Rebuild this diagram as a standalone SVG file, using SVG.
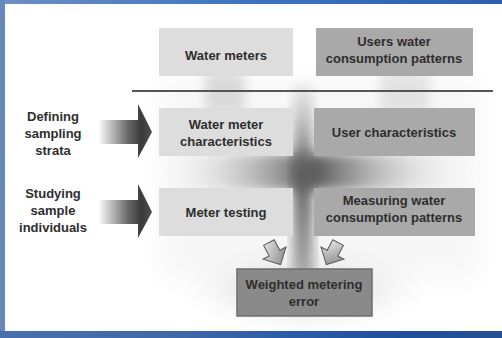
<svg xmlns="http://www.w3.org/2000/svg" width="502" height="338" viewBox="0 0 502 338">
<defs>
<style>
.t{font-family:"Liberation Sans",Arial,sans-serif;font-weight:bold;font-size:13px;fill:#2e2e2e;text-anchor:middle}
.lt{fill:#dddddd}
.dk{fill:#a9a9a9}
.sa{stroke:#5a5a5a;stroke-width:1;fill:url(#sg)}
</style>
<linearGradient id="topb" x1="0" y1="0" x2="1" y2="0"><stop offset="0" stop-color="#6d8fc4"/><stop offset="0.5" stop-color="#3b73c2"/><stop offset="1" stop-color="#2e5fae"/></linearGradient>
<linearGradient id="botb" x1="0" y1="0" x2="1" y2="0"><stop offset="0" stop-color="#4a6fae"/><stop offset="0.35" stop-color="#3f68a8"/><stop offset="0.6" stop-color="#2a5aa8"/><stop offset="0.8" stop-color="#1e4f9c"/><stop offset="1" stop-color="#244f94"/></linearGradient>
<linearGradient id="hb" x1="0" y1="0" x2="1" y2="0"><stop offset="0" stop-color="#ffffff" stop-opacity="0"/><stop offset="0.5" stop-color="#585858"/><stop offset="1" stop-color="#ffffff" stop-opacity="0"/></linearGradient>
<linearGradient id="vb" x1="0" y1="0" x2="0" y2="1"><stop offset="0" stop-color="#cfcfcf" stop-opacity="0.4"/><stop offset="0.45" stop-color="#5a5a5a"/><stop offset="1" stop-color="#8a8a8a" stop-opacity="0.7"/></linearGradient>
<radialGradient id="glow" cx="0.5" cy="0.5" r="0.5"><stop offset="0" stop-color="#b8b8b8"/><stop offset="1" stop-color="#ffffff" stop-opacity="0"/></radialGradient>
<linearGradient id="ag" x1="0" y1="0" x2="1" y2="0"><stop offset="0" stop-color="#ffffff"/><stop offset="0.55" stop-color="#6a6a6a"/><stop offset="0.8" stop-color="#3a3a3a"/><stop offset="1" stop-color="#505050"/></linearGradient>
<linearGradient id="sg" x1="0" y1="0" x2="1" y2="1"><stop offset="0" stop-color="#f2f2f2"/><stop offset="1" stop-color="#7a7a7a"/></linearGradient>
<filter id="bl" x="-30%" y="-30%" width="160%" height="160%"><feGaussianBlur stdDeviation="6"/></filter>
<filter id="bl2" x="-50%" y="-50%" width="200%" height="200%"><feGaussianBlur stdDeviation="10"/></filter>
</defs>
<rect x="0" y="0" width="502" height="338" fill="#ffffff"/>
<g id="shading">
<ellipse cx="304" cy="285" rx="140" ry="55" fill="url(#glow)"/>
<rect x="160" y="80" width="320" height="200" fill="#f3f3f3" filter="url(#bl2)" opacity="0.6"/>
<rect x="205" y="72" width="40" height="40" fill="#c4c4c4" filter="url(#bl)" opacity="0.6"/>
<rect x="380" y="72" width="50" height="40" fill="#cccccc" filter="url(#bl)" opacity="0.5"/>
<rect x="150" y="154" width="330" height="36" fill="url(#hb)" filter="url(#bl)"/>
<rect x="293" y="85" width="20" height="190" fill="url(#vb)" filter="url(#bl)"/>
</g>
<g id="frame">
<rect x="0" y="0" width="502" height="4" fill="url(#topb)"/>
<rect x="0" y="0" width="5" height="338" fill="#6688bd"/>
<rect x="0" y="331" width="502" height="7" fill="url(#botb)"/>
</g>
<line x1="132" y1="91" x2="493" y2="91" stroke="#555555" stroke-width="2"/>
<g id="n-water-meters"><rect class="lt" x="159" y="28" width="134" height="48"/><text class="t" x="226" y="60">Water meters</text></g>
<g id="n-users-patterns"><rect class="dk" x="316" y="28" width="157" height="48"/><text class="t" x="394" y="46">Users water</text><text class="t" x="394" y="63">consumption patterns</text></g>
<g id="n-meter-char"><rect class="lt" x="159" y="108" width="134" height="48"/><text class="t" x="226" y="129">Water meter</text><text class="t" x="226" y="146">characteristics</text></g>
<g id="n-user-char"><rect class="dk" x="314" y="108" width="161" height="48"/><text class="t" x="394" y="137">User characteristics</text></g>
<g id="n-meter-testing"><rect class="lt" x="159" y="188" width="134" height="48"/><text class="t" x="226" y="217">Meter testing</text></g>
<g id="n-measuring"><rect class="dk" x="314" y="188" width="161" height="48"/><text class="t" x="394" y="205">Measuring water</text><text class="t" x="394" y="222">consumption patterns</text></g>
<g id="n-weighted"><rect x="237" y="269" width="135" height="47" fill="#8a8a8a" stroke="#6c6c6c" stroke-width="1.5"/><text class="t" x="304" y="289" fill="#222">Weighted metering</text><text class="t" x="304" y="306" fill="#222">error</text></g>
<g id="n-defining"><text class="t" x="53" y="121">Defining</text><text class="t" x="53" y="138">sampling</text><text class="t" x="53" y="155">strata</text></g>
<g id="n-studying"><text class="t" x="53" y="198">Studying</text><text class="t" x="53" y="215">sample</text><text class="t" x="53" y="232">individuals</text></g>
<g id="connectors">
<path d="M98,120 L138,120 L138,104 L152,132 L138,158 L138,144 L98,144 Z" fill="url(#ag)"/>
<path d="M98,200 L138,200 L138,184 L152,212 L138,238 L138,224 L98,224 Z" fill="url(#ag)"/>
<path class="sa" transform="translate(275,254) rotate(-28)" d="M-6,-13 L6,-13 L6,-1 L13,-1 L0,12 L-13,-1 L-6,-1 Z"/>
<path class="sa" transform="translate(332,254) rotate(28)" d="M-6,-13 L6,-13 L6,-1 L13,-1 L0,12 L-13,-1 L-6,-1 Z"/>
</g>
</svg>
